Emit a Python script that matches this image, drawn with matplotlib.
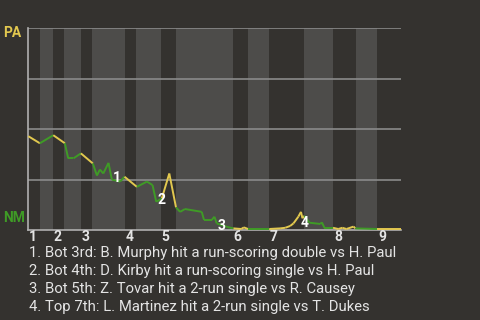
import matplotlib.pyplot as plt

plt.rcParams['font.family'] = ['Roboto', 'DejaVu Sans']

# 半イニングの境界 (イベント番号ベース、0-100)
half_innings = [0, 3.1, 6.7, 9.6, 14.1, 17.1, 25.9, 28.9, 35.6, 39.6,
                54.9, 58.9, 64.6, 73.9, 81.8, 87.9, 93.6, 100]
inning_labels = ['1', '2', '3', '4', '5', '6', '7', '8', '9']

# 勝率の推移 (PA側の勝率)
event_x = [0, 3.1, 6.7, 9.8, 10.7, 12.1, 14.1, 17.3, 18.4, 19.2, 20.1, 21.5,
           22.4, 24.6, 25.8, 29.1, 31.8, 33.3, 34.3, 35.8, 37.8, 39.6, 40.7,
           42.0, 46.5, 47.1, 49.2, 49.9, 50.5, 53.2, 55.0, 57.1, 57.8, 58.9,
           64.6, 67.5, 68.9, 70.2, 71.1, 72.4, 73.1, 73.5, 74.0, 75.4, 78.3,
           78.7, 79.4, 81.7, 83.1, 84.2, 85.3, 87.2, 87.7, 93.6, 100]
win_prob = [0.465, 0.43, 0.47, 0.43, 0.355, 0.355, 0.38, 0.33, 0.27, 0.30,
            0.28, 0.333, 0.25, 0.24, 0.264, 0.214, 0.24, 0.223, 0.14, 0.157,
            0.28, 0.112, 0.09, 0.104, 0.09, 0.05, 0.05, 0.066, 0.033, 0.016,
            0.008, 0.005, 0.013, 0.005, 0.005, 0.008, 0.011, 0.02, 0.033,
            0.066, 0.09, 0.058, 0.07, 0.036, 0.03, 0.038, 0.011, 0.011, 0.005,
            0.011, 0.005, 0.017, 0.008, 0.005, 0.005]

# 重要なプレー
key_x = [23.8, 35.6, 51.7, 74.0]
key_wp = [0.257, 0.149, 0.018, 0.036]
key_plays = [
    '1. Bot 3rd: B. Murphy hit a run-scoring double vs H. Paul',
    '2. Bot 4th: D. Kirby hit a run-scoring single vs H. Paul',
    '3. Bot 5th: Z. Tovar hit a 2-run single vs R. Causey',
    '4. Top 7th: L. Martinez hit a 2-run single vs T. Dukes',
]

bg = '#34322f'
band = '#4d4c4a'
yellow = '#e2c84f'
green = '#3f9b26'
white = '#e4e4e4'

fig = plt.figure(figsize=(4.8, 3.2), dpi=100, facecolor=bg)
ax = fig.add_axes([28.3 / 480, 1 - 230 / 320, 373 / 480, 201.7 / 320])
ax.set_facecolor(bg)
ax.set_xlim(0, 100)
ax.set_ylim(0, 1)

# 裏の攻撃を明るい帯で表示
for i in range(1, len(half_innings) - 1, 2):
    ax.axvspan(half_innings[i], half_innings[i + 1], color=band, lw=0, zorder=0)

for g in [0.25, 0.5, 0.75, 1.0]:
    ax.axhline(g, color='#8a8a8a', lw=1.2, zorder=1)

for s in ['top', 'right']:
    ax.spines[s].set_visible(False)
ax.spines['left'].set_color('#b0b0b0')
ax.spines['bottom'].set_color('#b0b0b0')
ax.spines['left'].set_linewidth(1.2)
ax.spines['bottom'].set_linewidth(1.2)
ax.set_xticks([])
ax.set_yticks([])

# 線分ごとに攻撃側の色で描画
for k in range(len(event_x) - 1):
    mid = (event_x[k] + event_x[k + 1]) / 2
    idx = 0
    for j in range(len(half_innings) - 1):
        if half_innings[j] <= mid < half_innings[j + 1]:
            idx = j
    c = yellow if idx % 2 == 0 else green
    ax.plot(event_x[k:k + 2], win_prob[k:k + 2], color=c, lw=1.4,
            solid_capstyle='butt', zorder=3, clip_on=False)

for n, (x, y) in enumerate(zip(key_x, key_wp)):
    ax.text(x, y, str(n + 1), color='white', fontsize=10, fontweight='bold',
            ha='center', va='center', zorder=4)

# イニング番号
for n, lab in enumerate(inning_labels):
    ax.text(half_innings[2 * n] + 1.2, -0.035, lab, color=white, fontsize=10,
            fontweight='bold', ha='center', va='center', clip_on=False)

fig.text(3 / 480, 1 - 33 / 320, 'PA', color=yellow, fontsize=10,
         fontweight='bold', ha='left', va='center')
fig.text(3 / 480, 1 - 218 / 320, 'NM', color=green, fontsize=10,
         fontweight='bold', ha='left', va='center')

for n, line in enumerate(key_plays):
    fig.text(29 / 480, 1 - (253 + 18 * n) / 320, line, color=white,
             fontsize=10.7, ha='left', va='center')

fig.savefig('out.png', dpi=100, facecolor=bg)
